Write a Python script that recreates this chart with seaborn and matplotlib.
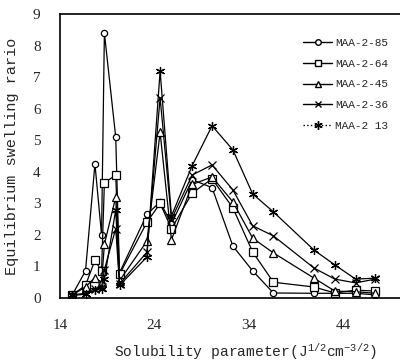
import matplotlib
matplotlib.use("Agg")
import matplotlib.pyplot as plt
from matplotlib.lines import Line2D
import seaborn as sns
import pandas as pd

sol_param = [15.3, 16.7, 17.7, 18.4, 18.7, 19.9, 20.3, 23.2, 24.6, 25.8,
             28.0, 30.1, 32.3, 34.4, 36.6, 40.9, 43.1, 45.3, 47.4]
maa_85 = [0.10, 0.86, 4.25, 2.00, 8.40, 5.10, 0.80, 2.65, 3.05, 2.35,
          3.75, 3.50, 1.65, 0.86, 0.16, 0.15, 0.15, 0.15, 0.10]
maa_64 = [0.10, 0.40, 1.20, 0.85, 3.65, 3.90, 0.75, 2.40, 3.00, 2.20,
          3.33, 3.78, 2.86, 1.46, 0.50, 0.35, 0.16, 0.25, 0.22]
maa_45 = [0.10, 0.35, 0.65, 0.50, 1.70, 3.20, 0.55, 1.80, 5.25, 1.85,
          3.60, 3.84, 3.05, 1.90, 1.43, 0.63, 0.22, 0.20, 0.15]
maa_36 = [0.10, 0.15, 0.30, 0.35, 0.90, 2.20, 0.45, 1.45, 6.35, 2.50,
          3.90, 4.22, 3.43, 2.29, 1.97, 0.95, 0.60, 0.48, 0.60]
maa_13 = [0.08, 0.12, 0.25, 0.30, 0.60, 2.80, 0.40, 1.30, 7.20, 2.60,
          4.20, 5.46, 4.70, 3.30, 2.73, 1.52, 1.05, 0.60, 0.63]

series_names = ["MAA-2-85", "MAA-2-64", "MAA-2-45", "MAA-2-36", "MAA-2 13"]
series_vals = [maa_85, maa_64, maa_45, maa_36, maa_13]
x_ticks = [14, 24, 34, 44]
y_ticks = list(range(0, 10))

rows = []
for name, vals in zip(series_names, series_vals):
    for xv, yv in zip(sol_param, vals):
        rows.append({"x": xv, "y": yv, "series": name})
df = pd.DataFrame(rows)

sns.set_style("white")
plt.rcParams["font.family"] = ["Liberation Mono", "DejaVu Sans"]
plt.rcParams["mathtext.default"] = "regular"

markers = {"MAA-2-85": "o", "MAA-2-64": "s", "MAA-2-45": "^",
           "MAA-2-36": "x", "MAA-2 13": (6, 2, 0)}
mfc = {"MAA-2-85": "white", "MAA-2-64": "white", "MAA-2-45": "white",
       "MAA-2-36": "black", "MAA-2 13": "black"}
msz = {"MAA-2-85": 4.5, "MAA-2-64": 5.5, "MAA-2-45": 5.5, "MAA-2-36": 5.5, "MAA-2 13": 6.5}

fig = plt.figure(figsize=(4.0, 3.63), dpi=100)
ax = fig.add_axes([0.15, 0.179, 0.85, 0.782])

for name in series_names:
    sub = df[df["series"] == name]
    sns.lineplot(data=sub, x="x", y="y", ax=ax, color="black", lw=0.9,
                 marker=markers[name], markersize=msz[name],
                 markerfacecolor=mfc[name], markeredgecolor="black",
                 markeredgewidth=0.9, sort=False, estimator=None, legend=False)

ax.set_xlim(14, 50)
ax.set_ylim(0, 9)
ax.set_xticks(x_ticks)
ax.set_yticks(y_ticks)
ax.set_xticklabels([str(t) for t in x_ticks], family="Liberation Serif", fontsize=11)
ax.set_yticklabels([str(t) for t in y_ticks], family="Liberation Serif", fontsize=11)
ax.tick_params(axis="x", length=0, pad=15)
ax.tick_params(axis="y", length=0, pad=14)
for s in ["left", "bottom", "top"]:
    ax.spines[s].set_color("black")
    ax.spines[s].set_linewidth(1.2)
ax.spines["right"].set_visible(False)

ax.set_xlabel("Solubility parameter(J$^{1/2}$cm$^{-3/2}$)", fontsize=10.5, va="center")
ax.xaxis.set_label_coords(0.545, -0.19)
ax.set_ylabel("Equilibrium swelling rario", fontsize=11, labelpad=10)

handles = []
for name in series_names:
    ls = ":" if name == "MAA-2 13" else "-"
    handles.append(Line2D([], [], color="black", lw=1.0, ls=ls,
                          marker=markers[name], markersize=msz[name] - 0.5,
                          markerfacecolor=mfc[name], markeredgecolor="black"))
ax.legend(handles, series_names, loc="upper right", bbox_to_anchor=(0.995, 0.95),
          frameon=False, fontsize=8, handlelength=2.6, labelspacing=0.95,
          handletextpad=0.3)

fig.savefig("out.png", dpi=100)
